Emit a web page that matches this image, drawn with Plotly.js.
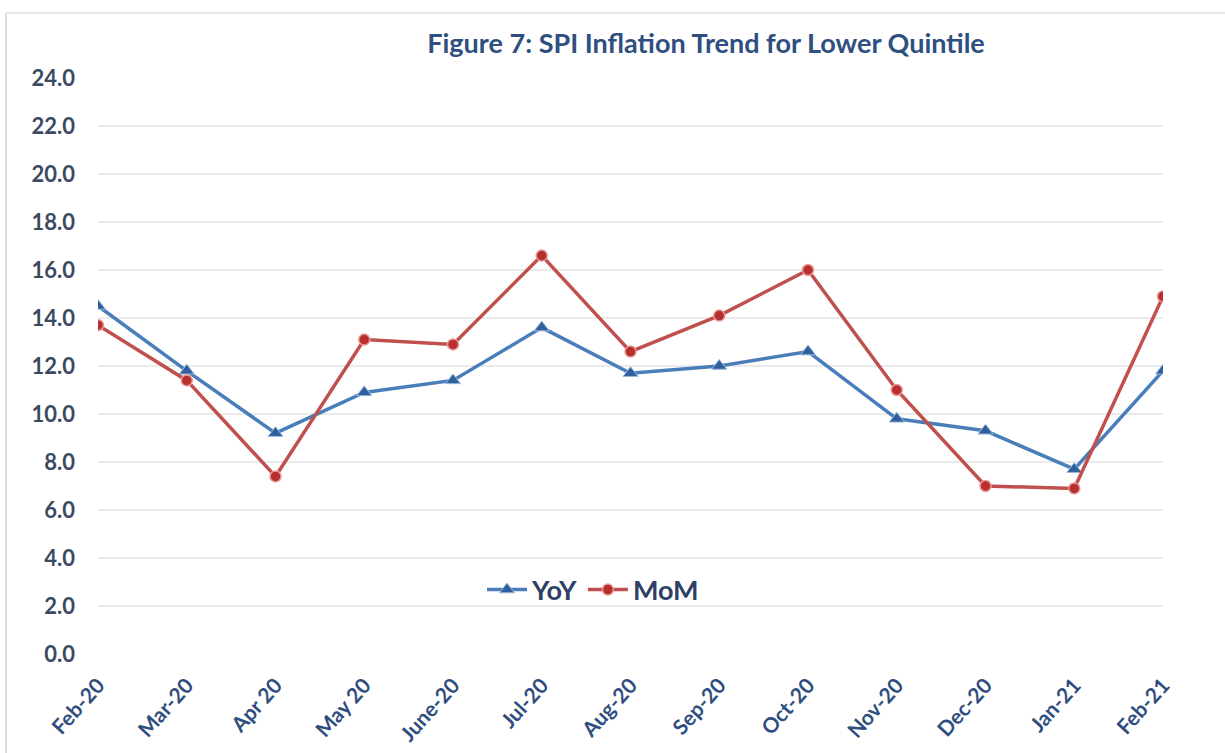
<!DOCTYPE html>
<html>
<head>
<meta charset="utf-8">
<script src="https://cdn.plot.ly/plotly-3.0.1.min.js"></script>
<style>html,body{margin:0;padding:0;background:#fff;}#chart{width:1225px;height:753px;}</style>
</head>
<body>
<div id="chart"></div>
<script>
const categories = ["Feb-20","Mar-20","Apr 20","May 20","June-20","Jul-20","Aug-20","Sep-20","Oct-20","Nov-20","Dec-20","Jan-21","Feb-21"];
const yoy = [14.5, 11.8, 9.2, 10.9, 11.4, 13.6, 11.7, 12.0, 12.6, 9.8, 9.3, 7.7, 11.8];
const mom = [13.7, 11.4, 7.4, 13.1, 12.9, 16.6, 12.6, 14.1, 16.0, 11.0, 7.0, 6.9, 14.9];
const yTicks = [0,2,4,6,8,10,12,14,16,18,20,22,24];
const titleText = "Figure 7: SPI Inflation Trend for Lower Quintile";

const fontFam = "Lato, 'Open Sans', sans-serif";
const traces = [
  {x: categories, y: yoy, name: "YoY", type: "scatter", mode: "lines+markers",
   line: {color: "#4a7ebb", width: 3.5},
   marker: {symbol: "triangle-up", size: 13, color: "#2f5f9c", line: {color: "#9cb8dc", width: 1}}},
  {x: categories, y: mom, name: "MoM", type: "scatter", mode: "lines+markers",
   line: {color: "#c0504d", width: 3.5},
   marker: {symbol: "circle", size: 11, color: "#b8302d", line: {color: "#e89a98", width: 1.5}}}
];
const L = 98, R = 62, T = 78, B = 99;
const W = 1225 - L - R, H = 753 - T - B;
const layout = {
  width: 1225, height: 753,
  margin: {l: L, r: R, t: T, b: B},
  paper_bgcolor: "#ffffff", plot_bgcolor: "#ffffff",
  title: {text: titleText, x: 706/1225, xanchor: "center", xref: "container", y: 1 - 44/753, yanchor: "middle",
          font: {family: fontFam, size: 27, weight: 700, color: "#2e4f80"}},
  xaxis: {type: "category", range: [0, categories.length - 1], showgrid: false, zeroline: false,
          showline: false, ticks: "", tickangle: -48, ticklabelstandoff: 14,
          tickfont: {family: fontFam, size: 21, weight: 700, color: "#2f4d7e"}},
  yaxis: {range: [0, 24], tickvals: yTicks, ticktext: yTicks.map(v => v.toFixed(1)),
          showgrid: true, gridcolor: "#ebebeb", gridwidth: 1.5, zeroline: false, showline: false,
          ticks: "", ticklabelstandoff: 22,
          tickfont: {family: fontFam, size: 22, weight: 700, color: "#3b4a63"}},
  showlegend: true,
  legend: {orientation: "h", x: (593 - L) / W, xanchor: "center", y: (654 - 590) / H, yanchor: "middle",
           bgcolor: "rgba(0,0,0,0)", font: {family: fontFam, size: 27, weight: 700, color: "#2f3f66"},
           itemwidth: 40, tracegroupgap: 0},
  shapes: [
    {type: "line", xref: "paper", yref: "paper", x0: (6 - L)/W, x1: (6 - L)/W, y0: -0.2, y1: (T - 13)/H + 1,
     line: {color: "#d6dde8", width: 2}},
    {type: "line", xref: "paper", yref: "paper", x0: (6 - L)/W, x1: (1225 - L)/W, y0: (T - 13)/H + 1, y1: (T - 13)/H + 1,
     line: {color: "#e3e8ef", width: 2}}
  ]
};
Plotly.newPlot("chart", traces, layout, {displayModeBar: false, staticPlot: true});
</script>
</body>
</html>
